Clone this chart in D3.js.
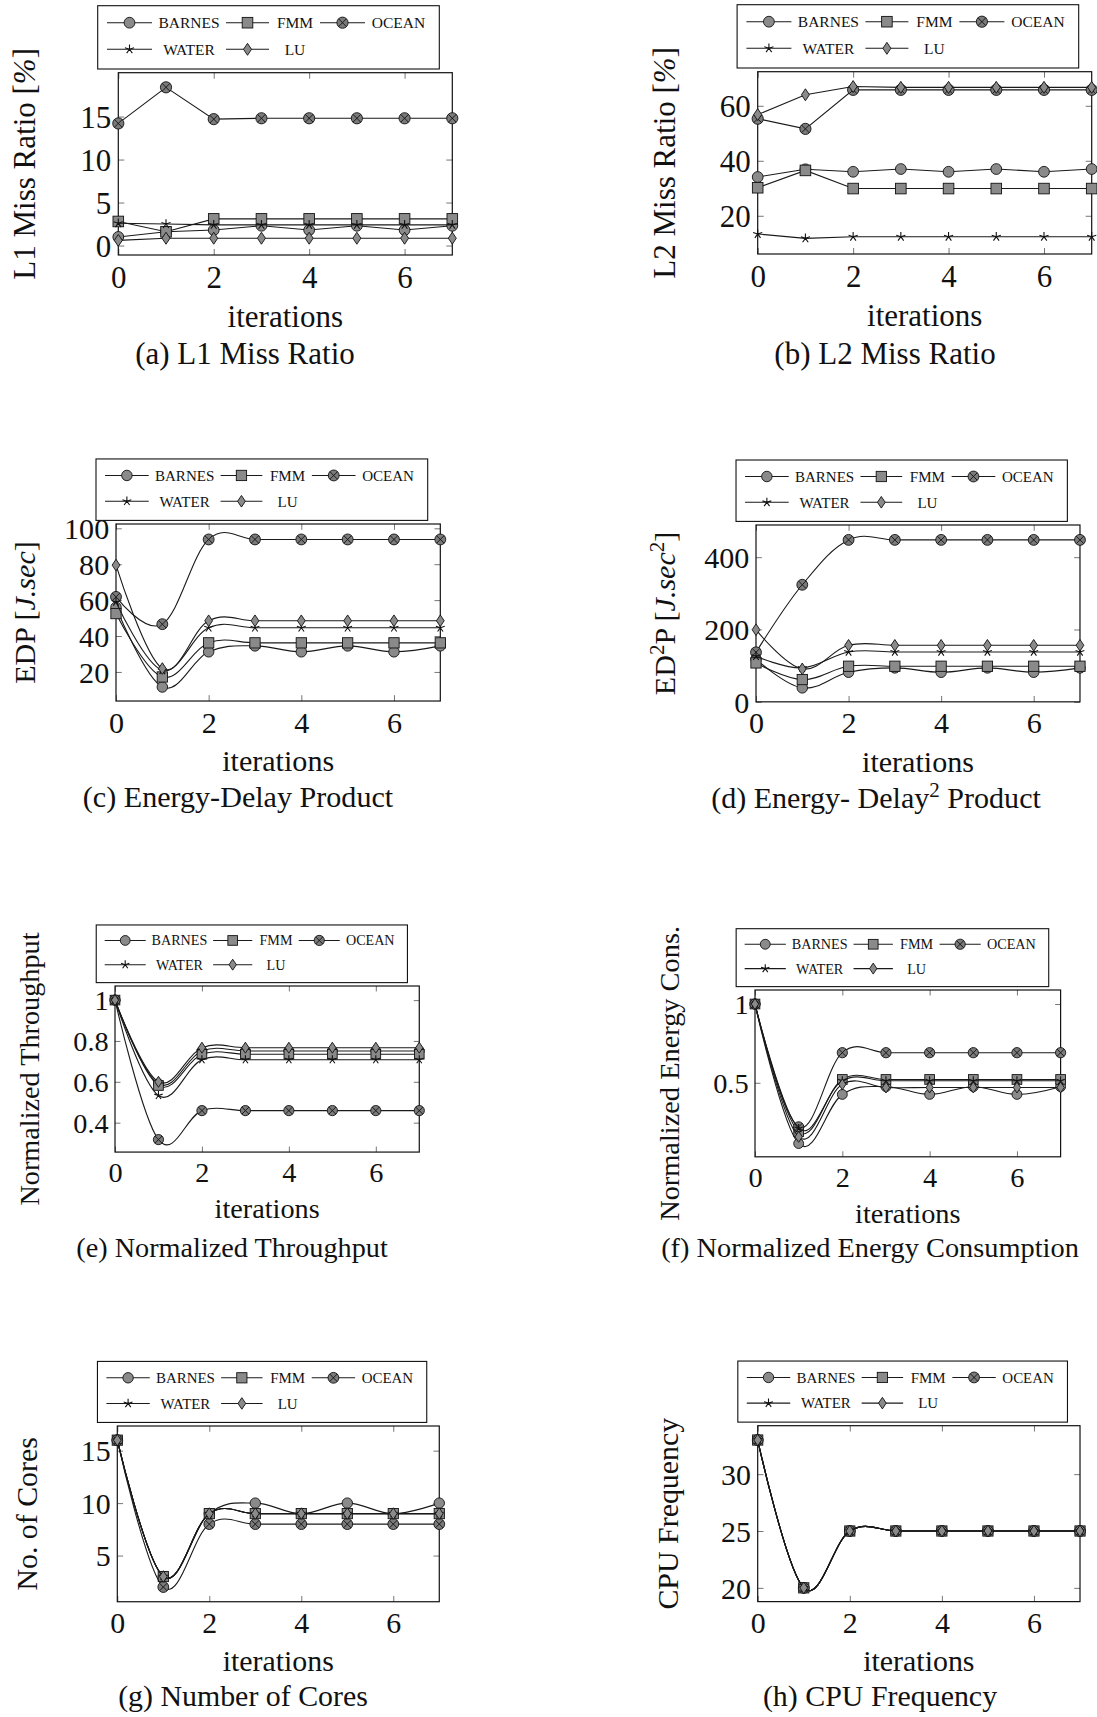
<!DOCTYPE html>
<html><head><meta charset="utf-8">
<script src="https://cdn.jsdelivr.net/npm/d3@7"></script>
<style>html,body{margin:0;padding:0;background:#fff;} svg{display:block;}</style>
</head><body><div id="chart"></div>
<script>
// ---------------- DATA ----------------
const iterations = [0, 1, 2, 3, 4, 5, 6, 7];
const seriesNames = ["BARNES", "FMM", "OCEAN", "WATER", "LU"];
const xTickValues = [0, 2, 4, 6];

// (a) L1 miss ratio [%]  (rows follow seriesNames)
const l1MissRatio = [
  [1.0, 1.6, 1.8, 2.3, 1.8, 2.3, 1.8, 2.3],
  [2.8, 1.6, 3.1, 3.1, 3.1, 3.1, 3.1, 3.1],
  [14.2, 18.4, 14.7, 14.8, 14.8, 14.8, 14.8, 14.8],
  [2.6, 2.5, 2.4, 2.4, 2.4, 2.4, 2.4, 2.4],
  [0.6, 0.85, 0.85, 0.85, 0.85, 0.85, 0.85, 0.85]
];
const l1Ticks = [0, 5, 10, 15];
const l1Limits = [-1.1, 20.1];

// (b) L2 miss ratio [%]
const l2MissRatio = [
  [34.1, 36.9, 36.0, 37.0, 36.0, 37.0, 36.0, 37.0],
  [30.2, 36.5, 29.9, 29.9, 29.9, 29.9, 29.9, 29.9],
  [55.3, 51.6, 65.8, 65.8, 65.8, 65.8, 65.8, 65.8],
  [13.4, 11.8, 12.4, 12.4, 12.4, 12.4, 12.4, 12.4],
  [56.8, 64.0, 67.0, 66.7, 66.7, 66.7, 66.7, 66.7]
];
const l2Ticks = [20, 40, 60];
const l2Limits = [6.1, 72.4];

// (c) EDP [J.sec]
const edp = [
  [56.0, 11.6, 31.2, 34.5, 31.2, 34.5, 31.2, 34.5],
  [52.5, 17.2, 36.2, 36.2, 36.2, 36.2, 36.2, 36.2],
  [61.8, 46.6, 93.8, 93.8, 93.8, 93.8, 93.8, 93.8],
  [59.0, 20.9, 44.6, 44.6, 44.6, 44.6, 44.6, 44.6],
  [79.5, 21.9, 48.5, 48.5, 48.5, 48.5, 48.5, 48.5]
];
const edpTicks = [20, 40, 60, 80, 100];
const edpLimits = [3.8, 102.4];

// (d) ED^2P [J.sec^2]
const ed2p = [
  [118, 38.6, 81.8, 93.8, 81.8, 93.8, 81.8, 93.8],
  [107.6, 61.6, 98.4, 98.4, 98.4, 98.4, 98.4, 98.4],
  [137, 323.7, 447.8, 447.8, 447.8, 447.8, 447.8, 447.8],
  [126, 93.8, 138, 138, 138, 138, 138, 138],
  [199.5, 91, 156.3, 156.3, 156.3, 156.3, 156.3, 156.3]
];
const ed2pTicks = [0, 200, 400];
const ed2pLimits = [0, 489];

// (e) Normalized throughput
const throughput = [
  [1, 0.59, 0.751, 0.751, 0.751, 0.751, 0.751, 0.751],
  [1, 0.582, 0.735, 0.735, 0.735, 0.735, 0.735, 0.735],
  [1, 0.317, 0.459, 0.459, 0.459, 0.459, 0.459, 0.459],
  [1, 0.533, 0.708, 0.708, 0.708, 0.708, 0.708, 0.708],
  [1, 0.6, 0.767, 0.767, 0.767, 0.767, 0.767, 0.767]
];
const throughputTicks = [0.4, 0.6, 0.8, 1];
const throughputLimits = [0.256, 1.069];

// (f) Normalized energy consumption
const energy = [
  [1, 0.114, 0.426, 0.475, 0.426, 0.475, 0.426, 0.475],
  [1, 0.19, 0.521, 0.521, 0.521, 0.521, 0.521, 0.521],
  [1, 0.22, 0.691, 0.691, 0.691, 0.691, 0.691, 0.691],
  [1, 0.21, 0.513, 0.513, 0.513, 0.513, 0.513, 0.513],
  [1, 0.157, 0.49, 0.47, 0.47, 0.47, 0.47, 0.47]
];
const energyTicks = [0.5, 1];
const energyLimits = [0.03, 1.089];

// (g) Number of cores
const cores = [
  [16, 3, 9, 10, 9, 10, 9, 10],
  [16, 3, 9, 9, 9, 9, 9, 9],
  [16, 2, 8, 8, 8, 8, 8, 8],
  [16, 3, 9, 9, 9, 9, 9, 9],
  [16, 3, 9, 9, 9, 9, 9, 9]
];
const coresTicks = [5, 10, 15];
const coresLimits = [0.6, 17.35];

// (h) CPU frequency
const cpuFreq = [
  [33, 20, 25, 25, 25, 25, 25, 25],
  [33, 20, 25, 25, 25, 25, 25, 25],
  [33, 20, 25, 25, 25, 25, 25, 25],
  [33, 20, 25, 25, 25, 25, 25, 25],
  [33, 20, 25, 25, 25, 25, 25, 25]
];
const cpuTicks = [20, 25, 30];
const cpuLimits = [18.79, 34.26];

// ---------------- LAYOUT ----------------
const markerTypes = ["circle", "square", "otimes", "star", "diamond"];
const FONT = "'Liberation Serif','Times New Roman',Times,serif";
const PW = 334, PH = 182.3;

const panels = [
  {data: l1MissRatio, ticks: l1Ticks, lim: l1Limits, smooth: false, x0: 118.3, y0: 72.7, s: 1.0, capX: 245, capY: 364,
   ylabel: [["L1 Miss Ratio ["], ["%", "i"], ["]"]], caption: [["(a) L1 Miss Ratio"]]},
  {data: l2MissRatio, ticks: l2Ticks, lim: l2Limits, smooth: false, x0: 757.7, y0: 71.7, s: 1.0, capX: 885, capY: 364,
   ylabel: [["L2 Miss Ratio ["], ["%", "i"], ["]"]], caption: [["(b) L2 Miss Ratio"]]},
  {data: edp, ticks: edpTicks, lim: edpLimits, smooth: true, x0: 116, y0: 524, s: 0.971, capX: 238, capY: 807,
   ylabel: [["EDP ["], ["J.sec", "i"], ["]"]], caption: [["(c) Energy-Delay Product"]]},
  {data: ed2p, ticks: ed2pTicks, lim: ed2pLimits, smooth: true, x0: 756, y0: 525, s: 0.970, capX: 876, capY: 808,
   ylabel: [["ED"], ["2", "sup"], ["P ["], ["J.sec", "i"], ["2", "sup"], ["]"]], caption: [["(d) Energy- Delay"], ["2", "sup"], [" Product"]]},
  {data: throughput, ticks: throughputTicks, lim: throughputLimits, smooth: true, x0: 115, y0: 986, s: 0.911, capX: 232, capY: 1257,
   ylabel: [["Normalized Throughput"]], caption: [["(e) Normalized Throughput"]]},
  {data: energy, ticks: energyTicks, lim: energyLimits, smooth: true, x0: 755, y0: 990, s: 0.915, capX: 870, capY: 1257,
   ylabel: [["Normalized Energy Cons."]], caption: [["(f) Normalized Energy Consumption"]]},
  {data: cores, ticks: coresTicks, lim: coresLimits, smooth: true, x0: 117.3, y0: 1426, s: 0.964, capX: 243, capY: 1706,
   ylabel: [["No. of Cores"]], caption: [["(g) Number of Cores"]]},
  {data: cpuFreq, ticks: cpuTicks, lim: cpuLimits, smooth: true, x0: 757.7, y0: 1425.7, s: 0.965, capX: 880, capY: 1706,
   ylabel: [["CPU Frequency"]], caption: [["(h) CPU Frequency"]]}
];

const svg = d3.select("#chart").append("svg").attr("width", 1097).attr("height", 1717);
svg.append("rect").attr("width", 1097).attr("height", 1717).attr("fill", "#fff");

function addRich(textSel, parts, fs) {
  let prevSup = false;
  parts.forEach(([t, st]) => {
    const ts = textSel.append("tspan").text(t);
    if (st === "i") ts.attr("font-style", "italic");
    if (st === "sup") {
      ts.attr("font-size", fs * 0.7).attr("dy", -fs * 0.38);
      prevSup = true;
    } else if (prevSup) {
      ts.attr("dy", fs * 0.38);
      prevSup = false;
    }
  });
}

const MFILL = "#8a8a8a", MSTROKE = "#111";
function drawMarker(g, type, cx, cy, s) {
  const sw = 0.9;
  if (type === "circle") {
    g.append("circle").attr("cx", cx).attr("cy", cy).attr("r", 5.4 * s)
      .attr("fill", MFILL).attr("stroke", MSTROKE).attr("stroke-width", sw);
  } else if (type === "square") {
    const h = 5.3 * s;
    g.append("rect").attr("x", cx - h).attr("y", cy - h).attr("width", 2 * h).attr("height", 2 * h)
      .attr("fill", MFILL).attr("stroke", MSTROKE).attr("stroke-width", sw);
  } else if (type === "otimes") {
    const r = 5.6 * s, d = r * 0.7071;
    g.append("circle").attr("cx", cx).attr("cy", cy).attr("r", r)
      .attr("fill", "#7a7a7a").attr("stroke", MSTROKE).attr("stroke-width", sw);
    g.append("path").attr("d", `M${cx - d},${cy - d}L${cx + d},${cy + d}M${cx - d},${cy + d}L${cx + d},${cy - d}`)
      .attr("stroke", MSTROKE).attr("stroke-width", sw).attr("fill", "none");
  } else if (type === "star") {
    const L = 4.8 * s;
    let dStr = "";
    for (let k = 0; k < 5; k++) {
      const a = (90 + 72 * k) * Math.PI / 180;
      dStr += `M${cx},${cy}L${cx + L * Math.cos(a)},${cy - L * Math.sin(a)}`;
    }
    g.append("path").attr("d", dStr).attr("stroke", MSTROKE).attr("stroke-width", 1.1).attr("fill", "none");
  } else if (type === "diamond") {
    const hw = 4.0 * s, hh = 6.0 * s;
    g.append("path").attr("d", `M${cx},${cy - hh}L${cx + hw},${cy}L${cx},${cy + hh}L${cx - hw},${cy}Z`)
      .attr("fill", MFILL).attr("stroke", MSTROKE).attr("stroke-width", sw);
  }
}

panels.forEach(p => {
  const s = p.s, x0 = p.x0, y0 = p.y0, w = PW * s, h = PH * s;
  const fs = 31 * s, lfs = 15.5 * s, tick = 6 * s;
  const x = d3.scaleLinear().domain([0, 7]).range([x0, x0 + w]);
  const y = d3.scaleLinear().domain(p.lim).range([y0 + h, y0]);
  const g = svg.append("g");

  // axes with inward ticks on all sides
  const styleAxis = (ax) => {
    ax.select(".domain").remove();
    ax.selectAll(".tick line").attr("stroke", "#666").attr("stroke-width", 0.9);
    ax.attr("font-family", FONT).attr("font-size", fs);
    ax.selectAll("text").attr("fill", "#111");
  };
  const bx = g.append("g").attr("transform", `translate(0,${y0 + h})`)
    .call(d3.axisBottom(x).tickValues(xTickValues).tickSizeInner(-tick).tickSizeOuter(0).tickFormat(d => String(d)));
  styleAxis(bx);
  bx.selectAll("text").attr("y", 32.5 * s).attr("dy", null);
  const tx = g.append("g").attr("transform", `translate(0,${y0})`)
    .call(d3.axisTop(x).tickValues(xTickValues).tickSizeInner(-tick).tickSizeOuter(0).tickFormat(""));
  styleAxis(tx);
  const lx = g.append("g").attr("transform", `translate(${x0},0)`)
    .call(d3.axisLeft(y).tickValues(p.ticks).tickSizeInner(-tick).tickSizeOuter(0).tickFormat(d => String(d)));
  styleAxis(lx);
  lx.selectAll("text").attr("x", -7 * s).attr("dy", "0.34em");
  const rx = g.append("g").attr("transform", `translate(${x0 + w},0)`)
    .call(d3.axisRight(y).tickValues(p.ticks).tickSizeInner(-tick).tickSizeOuter(0).tickFormat(""));
  styleAxis(rx);

  // frame
  g.append("rect").attr("x", x0).attr("y", y0).attr("width", w).attr("height", h)
    .attr("fill", "none").attr("stroke", "#111").attr("stroke-width", 1.2);

  // series
  const line = d3.line().x((d, i) => x(iterations[i])).y(d => y(d))
    .curve(p.smooth ? d3.curveCardinal.tension(-0.1) : d3.curveLinear);
  p.data.forEach((vals, si) => {
    const sg = g.append("g");
    sg.append("path").attr("d", line(vals)).attr("fill", "none")
      .attr("stroke", "#1a1a1a").attr("stroke-width", 1.1);
    vals.forEach((v, i) => drawMarker(sg, markerTypes[si], x(iterations[i]), y(v), s));
  });

  // axis labels
  g.append("text").attr("x", x0 + w / 2).attr("y", y0 + h + 72 * s)
    .attr("text-anchor", "middle").attr("font-family", FONT).attr("font-size", fs).attr("fill", "#111")
    .text("iterations");
  const yl = g.append("text")
    .attr("transform", `translate(${x0 - 83 * s},${y0 + h / 2}) rotate(-90)`)
    .attr("text-anchor", "middle").attr("font-family", FONT).attr("font-size", fs).attr("fill", "#111");
  addRich(yl, p.ylabel, fs);

  // caption
  const cap = g.append("text").attr("x", p.capX).attr("y", p.capY)
    .attr("text-anchor", "middle").attr("font-family", FONT).attr("font-size", fs).attr("fill", "#111");
  addRich(cap, p.caption, fs);

  // legend
  const lg = g.append("g").attr("transform", `translate(${x0 - 20.6 * s},${y0 - 67 * s})`);
  lg.append("rect").attr("x", 0).attr("y", 0).attr("width", 341.6 * s).attr("height", 63.3 * s)
    .attr("fill", "#fff").attr("stroke", "#111").attr("stroke-width", 1.1);
  const colLine0 = [9.3, 128.3, 222.3], colLine1 = [54.3, 171.3, 267.3], colText = [91.3, 197.3, 300.8];
  const rowY = [17, 43.6];
  seriesNames.forEach((name, si) => {
    const r = Math.floor(si / 3), c = si % 3;
    const yy = rowY[r] * s;
    lg.append("line").attr("x1", colLine0[c] * s).attr("x2", colLine1[c] * s).attr("y1", yy).attr("y2", yy)
      .attr("stroke", "#1a1a1a").attr("stroke-width", 1.1);
    drawMarker(lg, markerTypes[si], (colLine0[c] + colLine1[c]) / 2 * s, yy, s);
    lg.append("text").attr("x", colText[c] * s).attr("y", yy).attr("dy", "0.35em")
      .attr("text-anchor", "middle").attr("font-family", FONT).attr("font-size", lfs).attr("fill", "#111")
      .text(name);
  });
});
</script>
</body></html>
